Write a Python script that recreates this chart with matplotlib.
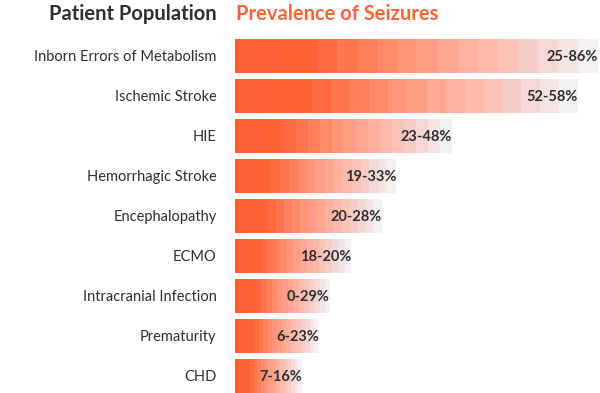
import numpy as np
import matplotlib.pyplot as plt
from matplotlib.colors import LinearSegmentedColormap

# data
populations = ['Inborn Errors of Metabolism', 'Ischemic Stroke', 'HIE',
               'Hemorrhagic Stroke', 'Encephalopathy', 'ECMO',
               'Intracranial Infection', 'Prematurity', 'CHD']
range_labels = ['25-86%', '52-58%', '23-48%', '19-33%', '20-28%',
                '18-20%', '0-29%', '6-23%', '7-16%']
# drawn bar length (roughly the middle of each range)
bar_len = [58.6, 55.3, 35.0, 26.0, 23.7, 18.7, 15.2, 13.5, 10.8]

orange = '#FF6438'
dark = '#2F2F2F'

# stepped gradient, solid orange fading out to light grey
cmap = LinearSegmentedColormap.from_list('fade', [
    (0.0, '#FF6236'), (0.2, '#FF6537'), (0.45, '#FF9275'),
    (0.68, '#FFB6A5'), (0.84, '#F6D0CA'), (1.0, '#F3F1F1')])
n_steps = 18
grad = (np.floor(np.linspace(0, 1, 200, endpoint=False) * n_steps) / (n_steps - 1)).reshape(1, -1)

plt.rcParams['font.family'] = ['Lato', 'DejaVu Sans']

fig = plt.figure(figsize=(6, 3.93), dpi=100)
ax = fig.add_axes([235 / 600, -3 / 393, 365 / 600, 360 / 393])

h = 0.85
for i, (L, lab) in enumerate(zip(bar_len, range_labels)):
    ax.imshow(grad, cmap=cmap, aspect='auto', interpolation='nearest',
              extent=(0, L, i + h / 2, i - h / 2), vmin=0, vmax=1)
    ax.text(L + 0.1, i + 0.03, lab, ha='right', va='center',
            fontsize=10.5, fontweight='bold', color=dark)
    ax.text(-3.0, i + 0.03, populations[i], ha='right', va='center',
            fontsize=10.5, color=dark)

ax.set_xlim(0, 59)
ax.set_ylim(len(populations) - 0.5, -0.5)
ax.axis('off')

fig.text(217 / 600, 1 - 14 / 393, 'Patient Population', ha='right', va='center',
         fontsize=14.5, fontweight='bold', color=dark)
fig.text(236 / 600, 1 - 14 / 393, 'Prevalence of Seizures', ha='left', va='center',
         fontsize=14.5, fontweight='bold', color=orange)

plt.savefig('out.png', dpi=100)
